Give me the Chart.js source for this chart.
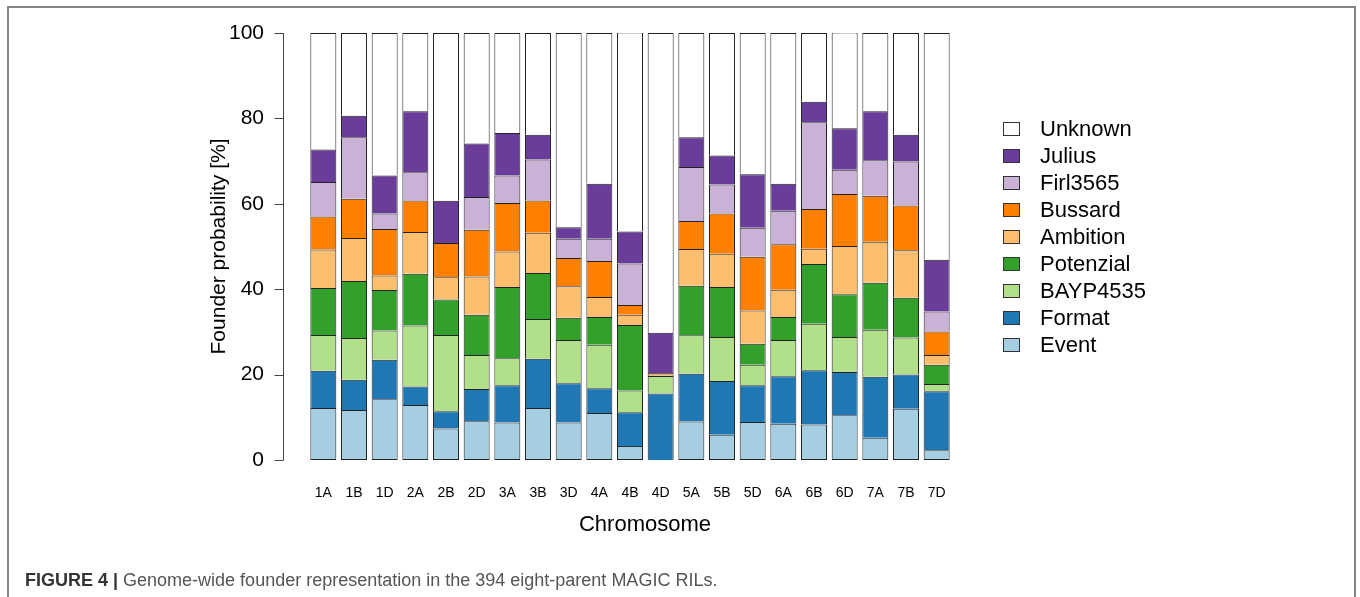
<!DOCTYPE html>
<html>
<head>
<meta charset="utf-8">
<script src="https://cdn.jsdelivr.net/npm/chart.js@4.4.0/dist/chart.umd.min.js"></script>
<style>
  html, body { margin: 0; padding: 0; background: #fff; }
  body { width: 1360px; height: 597px; position: relative; overflow: hidden; font-family: "Liberation Sans", Arial, sans-serif; }
  #frame { position: absolute; left: 7px; top: 6px; width: 1349px; height: 640px; border: 2px solid #858585; box-sizing: border-box; }
  #bars { position: absolute; left: 0; top: 0; }
  #legend { position: absolute; left: 1003px; top: 115px; }
  .row { height: 27px; position: relative; }
  .sw { position: absolute; left: 0; top: 7px; width: 17px; height: 14px; border: 1px solid #333; box-sizing: border-box; }
  .lab { position: absolute; left: 37px; top: 0; line-height: 27px; font-size: 22px; color: #000; white-space: nowrap; }
  #caption { position: absolute; left: 25px; top: 570px; font-size: 18px; line-height: 21px; color: #555; white-space: nowrap; }
  #caption b { color: #333; }
</style>
</head>
<body>
<div id="frame"></div>
<canvas id="bars" width="1360" height="597"></canvas>
<div id="legend"></div>
<div id="caption"><b>FIGURE 4 |</b> Genome-wide founder representation in the 394 eight-parent MAGIC RILs.</div>
<script>
var chromosomes = ['1A','1B','1D','2A','2B','2D','3A','3B','3D','4A','4B','4D','5A','5B','5D','6A','6B','6D','7A','7B','7D'];

// founder probability [%] per chromosome, bottom to top of each stack
var event_    = [12.2, 11.7, 14.2, 12.9, 7.4, 9.1, 8.8, 12.2, 8.8, 11.0, 3.3, 0, 9.0, 5.9, 8.9, 8.5, 8.3, 10.5, 5.2, 12.0, 2.3];
var format_   = [8.7, 7.1, 9.3, 4.3, 4.0, 7.5, 8.7, 11.5, 9.2, 5.8, 7.9, 15.6, 11.2, 12.6, 8.6, 11.1, 12.7, 10.1, 14.3, 8.0, 13.8];
var bayp4535  = [8.4, 9.8, 6.8, 14.3, 17.9, 8.0, 6.3, 9.3, 10.1, 10.2, 5.1, 4.1, 9.0, 10.3, 4.8, 8.5, 10.9, 8.2, 11.0, 8.7, 1.7];
var potenzial = [11.0, 13.3, 9.5, 12.1, 8.3, 9.4, 16.7, 10.8, 5.2, 6.5, 15.3, 0, 11.6, 11.7, 4.9, 5.4, 14.0, 10.0, 11.0, 9.3, 4.5];
var ambition  = [9.0, 10.1, 3.4, 9.8, 5.2, 9.0, 8.3, 9.4, 7.4, 4.7, 2.4, 0.3, 8.6, 7.8, 7.8, 6.4, 3.6, 11.3, 9.6, 11.1, 2.3];
var bussard   = [7.7, 9.2, 10.9, 7.4, 8.0, 10.9, 11.4, 7.6, 6.6, 8.4, 2.3, 0.4, 6.6, 9.4, 12.6, 10.6, 9.3, 12.2, 10.8, 10.5, 5.5];
var firl3565  = [8.1, 14.4, 3.6, 6.6, 0, 7.7, 6.4, 9.6, 4.5, 5.2, 9.7, 0, 12.6, 6.8, 6.8, 7.9, 20.3, 5.7, 8.3, 10.3, 4.7];
var julius    = [7.6, 5.0, 8.9, 14.3, 9.9, 12.5, 10.0, 5.8, 2.7, 12.9, 7.5, 9.4, 7.0, 6.8, 12.5, 6.3, 4.8, 9.7, 11.5, 6.3, 12.1];
var unknown   = [27.3, 19.4, 33.4, 18.3, 39.3, 25.9, 23.4, 23.8, 45.5, 35.3, 46.6, 70.2, 24.4, 28.7, 33.1, 35.3, 16.1, 22.4, 18.3, 23.8, 53.1];

var founders = ['Event','Format','BAYP4535','Potenzial','Ambition','Bussard','Firl3565','Julius','Unknown'];
var founderData = [event_, format_, bayp4535, potenzial, ambition, bussard, firl3565, julius, unknown];
var founderColors = ['#a6cee3','#1f78b4','#b2df8a','#33a02c','#fdbf6f','#ff7f00','#cab2d6','#6a3d9a','#ffffff'];
var yTicks = [0, 20, 40, 60, 80, 100];

var FONT = '"Liberation Sans", Arial, sans-serif';

// R-like y axis: line + outward ticks, detached from the bars
var rAxis = {
    id: 'rAxis',
    afterDraw: function (chart) {
        var ctx = chart.ctx;
        var y = chart.scales.y;
        var ax = 283.5;
        ctx.save();
        ctx.strokeStyle = '#444';
        ctx.lineWidth = 1;
        ctx.beginPath();
        ctx.moveTo(ax, y.getPixelForValue(0));
        ctx.lineTo(ax, y.getPixelForValue(100));
        yTicks.forEach(function (t) {
            var p = Math.round(y.getPixelForValue(t)) + 0.5;
            ctx.moveTo(ax, p);
            ctx.lineTo(ax - 9, p);
        });
        ctx.stroke();
        ctx.fillStyle = '#000';
        ctx.font = '22px ' + FONT;
        ctx.textAlign = 'center';
        ctx.textBaseline = 'middle';
        ctx.fillText('Chromosome', 645, 525);
        ctx.restore();
    }
};

function buildDatasets() {
    return founders.map(function (name, i) {
        return {
            label: name,
            data: founderData[i],
            backgroundColor: founderColors[i],
            borderColor: '#222',
            borderWidth: 1,
            borderSkipped: i === 0 ? false : 'start',
            barPercentage: 0.847,
            categoryPercentage: 1.0
        };
    });
}

new Chart(document.getElementById('bars'), {
    type: 'bar',
    data: {
        labels: chromosomes,
        datasets: buildDatasets()
    },
    options: {
        responsive: false,
        maintainAspectRatio: false,
        animation: false,
        layout: { autoPadding: false, padding: { left: 207, right: 408, top: 33, bottom: 0 } },
        plugins: {
            legend: { display: false },
            tooltip: { enabled: false }
        },
        scales: {
            x: {
                stacked: true,
                grid: { display: false, drawTicks: false },
                border: { display: false },
                ticks: { font: { family: FONT, size: 14 }, color: '#000', padding: 25, maxRotation: 0, autoSkip: false },
                afterFit: function (s) { s.height = 137; }
            },
            y: {
                stacked: true,
                min: 0,
                max: 100,
                grid: { display: false, drawTicks: false },
                border: { display: false },
                ticks: { stepSize: 20, font: { family: FONT, size: 21 }, color: '#000', padding: 44 },
                title: { display: true, text: 'Founder probability [%]', font: { family: FONT, size: 21 }, color: '#000', padding: 0 },
                afterFit: function (s) { s.width = 101; s.paddingTop = 0; s.paddingBottom = 0; }
            }
        }
    },
    plugins: [rAxis]
});

// legend, top entry first (reverse of stacking order)
var legend = document.getElementById('legend');
for (var i = founders.length - 1; i >= 0; i--) {
    var row = document.createElement('div');
    row.className = 'row';
    row.innerHTML = '<span class="sw" style="background:' + founderColors[i] + '"></span><span class="lab">' + founders[i] + '</span>';
    legend.appendChild(row);
}
</script>
</body>
</html>
